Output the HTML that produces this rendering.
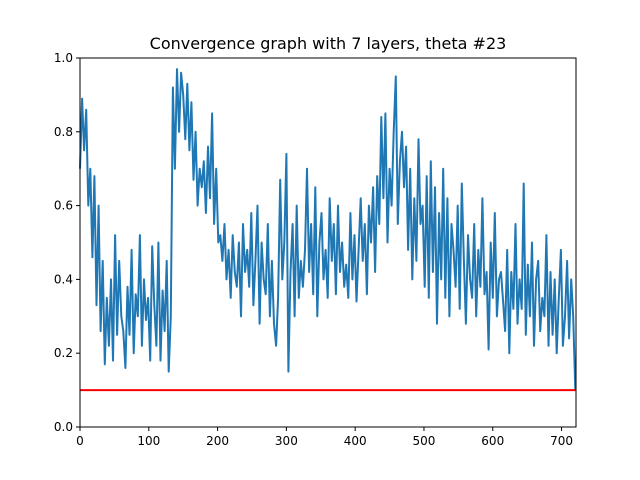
<!DOCTYPE html>
<html><head><meta charset="utf-8"><style>
body{margin:0;background:#fff;}
svg{display:block;font-family:"DejaVu Sans","Liberation Sans",sans-serif;}
</style></head><body>
<svg id="chart" width="640" height="480">
<rect width="640" height="480" fill="#fff"/>
<text x="328" y="49" font-size="16" text-anchor="middle">Convergence graph with 7 layers, theta #23</text>
<g id="plot"></g>
</svg>
<script>
const xTicks=[0,100,200,300,400,500,600,700];
const yTicks=[0.0,0.2,0.4,0.6,0.8,1.0];
const threshold=0.1;
const step=3;
const values=[
// x 0-129 (44)
0.70,0.89,0.75,0.86,0.60,0.70,0.46,0.68,0.33,0.60,0.26,0.45,0.17,0.35,0.22,0.40,
0.18,0.52,0.25,0.45,0.30,0.26,0.16,0.38,0.25,0.48,0.20,0.36,0.30,0.52,0.22,0.40,
0.29,0.35,0.18,0.49,0.33,0.22,0.50,0.18,0.37,0.26,0.45,0.15,
// x 132-198 (23)
0.30,0.92,0.70,0.97,0.80,0.96,0.90,0.78,0.93,0.75,0.88,0.67,0.80,0.60,0.70,0.65,
0.72,0.58,0.76,0.62,0.85,0.55,0.70,
// x 201-300 (34)
0.50,0.52,0.45,0.55,0.40,0.48,0.35,0.52,0.42,0.38,0.50,0.30,0.55,0.42,0.48,0.38,
0.58,0.33,0.45,0.60,0.28,0.50,0.40,0.36,0.55,0.30,0.45,0.28,0.22,0.35,0.67,0.40,
0.50,0.74,
// x 303-435 (45)
0.15,0.42,0.55,0.30,0.60,0.35,0.45,0.38,0.48,0.70,0.42,0.55,0.36,0.65,0.30,0.50,
0.58,0.40,0.48,0.35,0.62,0.45,0.55,0.36,0.60,0.42,0.50,0.38,0.44,0.35,0.58,0.40,
0.52,0.34,0.48,0.62,0.45,0.55,0.36,0.60,0.50,0.65,0.42,0.68,0.55,
// x 438-480 (15)
0.84,0.62,0.85,0.50,0.70,0.60,0.80,0.95,0.55,0.72,0.80,0.65,0.76,0.48,0.70,
// x 483-558 (26)
0.40,0.62,0.45,0.78,0.55,0.60,0.38,0.68,0.35,0.72,0.42,0.65,0.28,0.58,0.40,0.70,
0.35,0.62,0.30,0.55,0.48,0.38,0.60,0.32,0.66,0.45,
// x 561-720 (54)
0.28,0.52,0.40,0.35,0.55,0.30,0.48,0.38,0.62,0.36,0.42,0.21,0.50,0.35,0.58,0.30,
0.40,0.42,0.34,0.26,0.48,0.20,0.42,0.32,0.55,0.28,0.40,0.32,0.66,0.25,0.44,0.30,
0.50,0.22,0.40,0.45,0.26,0.35,0.30,0.52,0.22,0.42,0.25,0.40,0.20,0.35,0.48,0.22,
0.30,0.45,0.24,0.40,0.30,0.10
];
const X0=80,X1=576,Y0=427,Y1=58,XMAX=721;
const sx=v=>X0+(v/XMAX)*(X1-X0);
const sy=v=>Y0-(v/1.0)*(Y0-Y1);
const NS="http://www.w3.org/2000/svg";
const g=document.getElementById('plot');
function mk(t,a){const e=document.createElementNS(NS,t);for(const k in a)e.setAttribute(k,a[k]);g.appendChild(e);return e;}
let d='';
values.forEach((v,i)=>{const x=Math.min(i*step,720);d+=(i?'L':'M')+sx(x).toFixed(1)+','+sy(v).toFixed(1);});
const line=mk('path',{d:d,fill:'none',stroke:'#1f77b4','stroke-width':2,'stroke-linejoin':'round'});


const th=mk('line',{x1:X0,x2:X1,y1:sy(threshold),y2:sy(threshold),stroke:'#ff0000','stroke-width':2});


const frame=mk('rect',{x:X0,y:Y1,width:X1-X0,height:Y0-Y1,fill:'none',stroke:'#000','stroke-width':1});


xTicks.forEach(t=>{
 const tk=mk('line',{x1:sx(t),x2:sx(t),y1:Y0,y2:Y0+4,stroke:'#000'});
 
 
 const lb=mk('text',{x:sx(t),y:Y0+18,'font-size':12,'text-anchor':'middle'});
 lb.textContent=t;
 
 
});
yTicks.forEach(t=>{
 const tk=mk('line',{x1:X0-4,x2:X0,y1:sy(t),y2:sy(t),stroke:'#000'});
 
 
 const lb=mk('text',{x:X0-7,y:sy(t)+4,'font-size':12,'text-anchor':'end'});
 lb.textContent=t.toFixed(1);
 
 
});
</script>
</body></html>
